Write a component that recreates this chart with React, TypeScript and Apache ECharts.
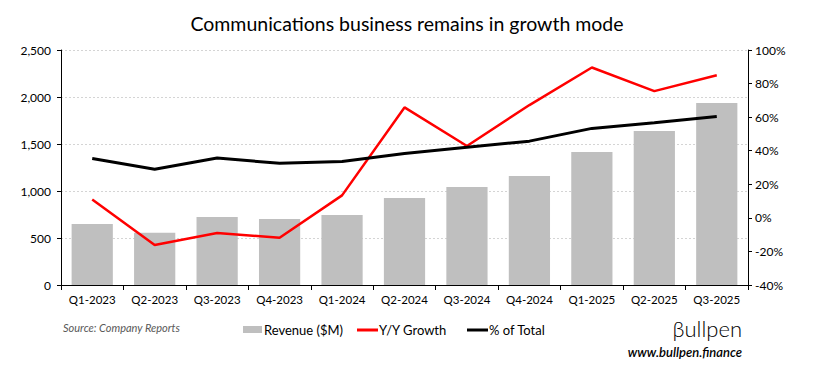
import React, { useEffect, useRef } from "react";
import * as echarts from "echarts";

const categories = ["Q1-2023", "Q2-2023", "Q3-2023", "Q4-2023", "Q1-2024", "Q2-2024", "Q3-2024", "Q4-2024", "Q1-2025", "Q2-2025", "Q3-2025"];
const revenue = [650, 555, 723, 702, 745, 926, 1043, 1160, 1415, 1638, 1936];
const yoyGrowth = [11, -16.2, -9, -11.8, 13.4, 65.8, 42.8, 67.2, 89.6, 75.5, 85];
const pctOfTotal = [35.4, 29, 35.6, 32.5, 33.6, 38.4, 42, 45.7, 53.3, 56.6, 60.4];
const leftTicks = { min: 0, max: 2500, interval: 500 };
const rightTicks = { min: -40, max: 100, interval: 20 };

const FONT = "Lato, 'Open Sans', sans-serif";

export default function App() {
  const ref = useRef<HTMLDivElement>(null);
  useEffect(() => {
    if (!ref.current) return;
    const chart = echarts.init(ref.current, null, { renderer: "svg" });
    const legendY = 330;
    chart.setOption({
      animation: false,
      backgroundColor: "#fff",
      textStyle: { fontFamily: FONT },
      title: {
        text: "Communications business remains in growth mode",
        left: "center",
        top: 8,
        textStyle: { fontFamily: FONT, fontSize: 19.5, fontWeight: "normal", color: "#000" },
      },
      grid: { left: 61, right: 66, top: 50, bottom: 92 },
      xAxis: {
        type: "category",
        data: categories,
        axisLine: { lineStyle: { color: "#000", width: 1 } },
        axisTick: { show: true, alignWithLabel: false, length: 5, lineStyle: { color: "#000" } },
        axisLabel: { color: "#000", fontSize: 11.5, margin: 8, fontFamily: FONT },
      },
      yAxis: [
        {
          type: "value",
          min: leftTicks.min,
          max: leftTicks.max,
          interval: leftTicks.interval,
          axisLine: { show: true, lineStyle: { color: "#000" } },
          axisTick: { show: true, length: 4, lineStyle: { color: "#000" } },
          axisLabel: {
            color: "#000",
            fontSize: 12,
            margin: 10,
            fontFamily: FONT,
            formatter: (v: number) => v.toLocaleString("en-US"),
          },
          splitLine: { show: true, lineStyle: { color: "#d4d4d4", type: [2, 2], width: 1 } },
        },
        {
          type: "value",
          min: rightTicks.min,
          max: rightTicks.max,
          interval: rightTicks.interval,
          position: "right",
          axisLine: { show: true, lineStyle: { color: "#000" } },
          axisTick: { show: true, length: 4, lineStyle: { color: "#000" } },
          axisLabel: { color: "#000", fontSize: 12, margin: 7, fontFamily: FONT, formatter: (v: number) => `${v}%` },
          splitLine: { show: false },
        },
      ],
      series: [
        {
          name: "Revenue ($M)",
          type: "bar",
          data: revenue,
          barCategoryGap: "34%",
          itemStyle: { color: "#bfbfbf" },
          yAxisIndex: 0,
        },
        {
          name: "Y/Y Growth",
          type: "line",
          data: yoyGrowth,
          yAxisIndex: 1,
          symbol: "none",
          lineStyle: { color: "#ff0000", width: 2.5 },
        },
        {
          name: "% of Total",
          type: "line",
          data: pctOfTotal,
          yAxisIndex: 1,
          symbol: "none",
          lineStyle: { color: "#000", width: 3 },
        },
      ],
      graphic: [
        {
          type: "text",
          left: 63,
          top: 322,
          style: { text: "Source: Company Reports", fontFamily: FONT, fontSize: 11, fontStyle: "italic", fill: "#595959" },
        },
        { type: "rect", shape: { x: 243, y: legendY - 4, width: 19, height: 7 }, style: { fill: "#bfbfbf" } },
        { type: "text", x: 264, y: legendY, style: { text: "Revenue ($M)", fontFamily: FONT, fontSize: 13, fill: "#000", verticalAlign: "middle" } },
        { type: "rect", shape: { x: 357, y: legendY - 1.5, width: 21, height: 3 }, style: { fill: "#ff0000" } },
        { type: "text", x: 379, y: legendY, style: { text: "Y/Y Growth", fontFamily: FONT, fontSize: 13, fill: "#000", verticalAlign: "middle" } },
        { type: "rect", shape: { x: 467, y: legendY - 1.5, width: 21, height: 3 }, style: { fill: "#000" } },
        { type: "text", x: 489, y: legendY, style: { text: "% of Total", fontFamily: FONT, fontSize: 13, fill: "#000", verticalAlign: "middle" } },
        {
          type: "text",
          x: 742,
          y: 328,
          style: { text: "βullpen", fontFamily: FONT, fontSize: 22, fontWeight: 300, fill: "#000", align: "right", verticalAlign: "middle" },
        },
        {
          type: "text",
          x: 742,
          y: 352,
          style: { text: "www.bullpen.finance", fontFamily: FONT, fontSize: 13, fontStyle: "italic", fontWeight: 600, fill: "#000", align: "right", verticalAlign: "middle" },
        },
      ],
    });
    return () => chart.dispose();
  }, []);
  return <div ref={ref} style={{ width: 814, height: 377, marginLeft: -8, marginTop: -8 }} />;
}
